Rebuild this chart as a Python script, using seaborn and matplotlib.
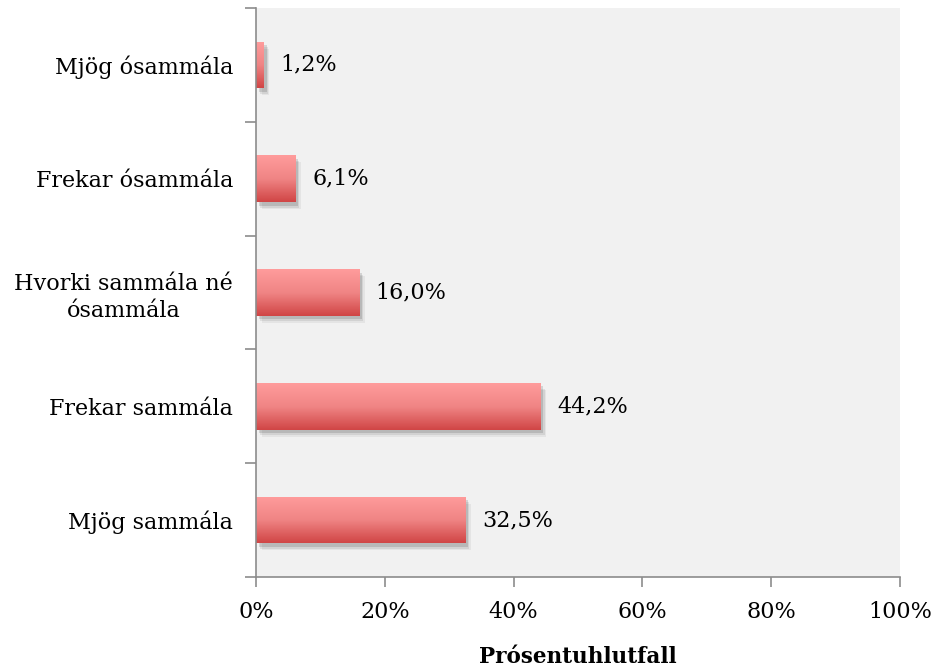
import numpy as np
import pandas as pd
import matplotlib
matplotlib.use("Agg")
import matplotlib.pyplot as plt
import matplotlib.patheffects as pe
from matplotlib.colors import LinearSegmentedColormap
from matplotlib.ticker import FuncFormatter, FixedLocator
import seaborn as sns

categories = [
    "Mjög ósammála",
    "Frekar ósammála",
    "Hvorki sammála né\nósammála",
    "Frekar sammála",
    "Mjög sammála",
]
values = [1.2, 6.1, 16.0, 44.2, 32.5]
x_ticks = [0, 20, 40, 60, 80, 100]
x_label = "Prósentuhlutfall"

df = pd.DataFrame({"category": categories, "value": values})

sns.set_theme(style="white")
plt.rcParams["font.family"] = ["DejaVu Serif"]

fig = plt.figure(figsize=(9.4, 6.68), dpi=100)
ax = fig.add_axes([256 / 940, 1 - 577 / 668, (900 - 256) / 940, (577 - 8) / 668])
ax.set_facecolor("#F1F1F1")

sns.barplot(data=df, x="value", y="category", orient="h", width=0.41,
            color="#E86464", ax=ax, saturation=1)

# vertical gradient fill for each bar, with a soft drop shadow
grad_cmap = LinearSegmentedColormap.from_list(
    "bar", ["#FF9C9C", "#F08585", "#D04545"])
gradient = np.linspace(0, 1, 256).reshape(-1, 1)
for patch in ax.patches:
    patch.set_edgecolor("none")
    patch.set_path_effects([
        pe.SimplePatchShadow(offset=(4, -5), shadow_rgbFace="#000000", alpha=0.05),
        pe.SimplePatchShadow(offset=(3, -4), shadow_rgbFace="#000000", alpha=0.08),
        pe.SimplePatchShadow(offset=(2, -2.5), shadow_rgbFace="#000000", alpha=0.12),
        pe.Normal(),
    ])
    x0, y0 = patch.get_x(), patch.get_y()
    w, h = patch.get_width(), patch.get_height()
    im = ax.imshow(gradient, cmap=grad_cmap, aspect="auto",
                   extent=(x0, x0 + w, y0 + h, y0), origin="upper",
                   interpolation="bilinear", zorder=patch.get_zorder() + 0.1)
    im.set_clip_path(patch)

ax.set_xlim(0, 100)
ax.set_ylim(4.5, -0.5)

for i, v in enumerate(values):
    ax.text(v + 2.6, i, f"{v:.1f}%".replace(".", ","), va="center", ha="left",
            fontsize=16, color="#000000")

ax.xaxis.set_major_locator(FixedLocator(x_ticks))
ax.xaxis.set_major_formatter(FuncFormatter(lambda v, p: f"{v:.0f}%"))
ax.tick_params(axis="x", which="major", direction="out", length=7, width=1.2,
               color="#8C8C8C", labelsize=16, pad=10, bottom=True,
               labelcolor="#000000")
ax.set_yticks(range(len(categories)))
ax.set_yticklabels(categories)
ax.tick_params(axis="y", which="major", length=0, labelsize=16, pad=16.5,
               left=True, labelcolor="#000000")
for lbl in ax.get_yticklabels():
    lbl.set_multialignment("center")
    lbl.set_linespacing(1.3)
ax.yaxis.set_minor_locator(FixedLocator([-0.5, 0.5, 1.5, 2.5, 3.5, 4.5]))
ax.tick_params(axis="y", which="minor", direction="out", length=8, width=1.2,
               color="#8C8C8C", left=True)

ax.set_xlabel(x_label, fontsize=15.5, fontweight="bold", labelpad=17,
              color="#000000")
ax.set_ylabel("")

for side in ["top", "right"]:
    ax.spines[side].set_visible(False)
for side in ["left", "bottom"]:
    ax.spines[side].set_color("#8C8C8C")
    ax.spines[side].set_linewidth(1.2)

fig.savefig("out.png", dpi=100)
